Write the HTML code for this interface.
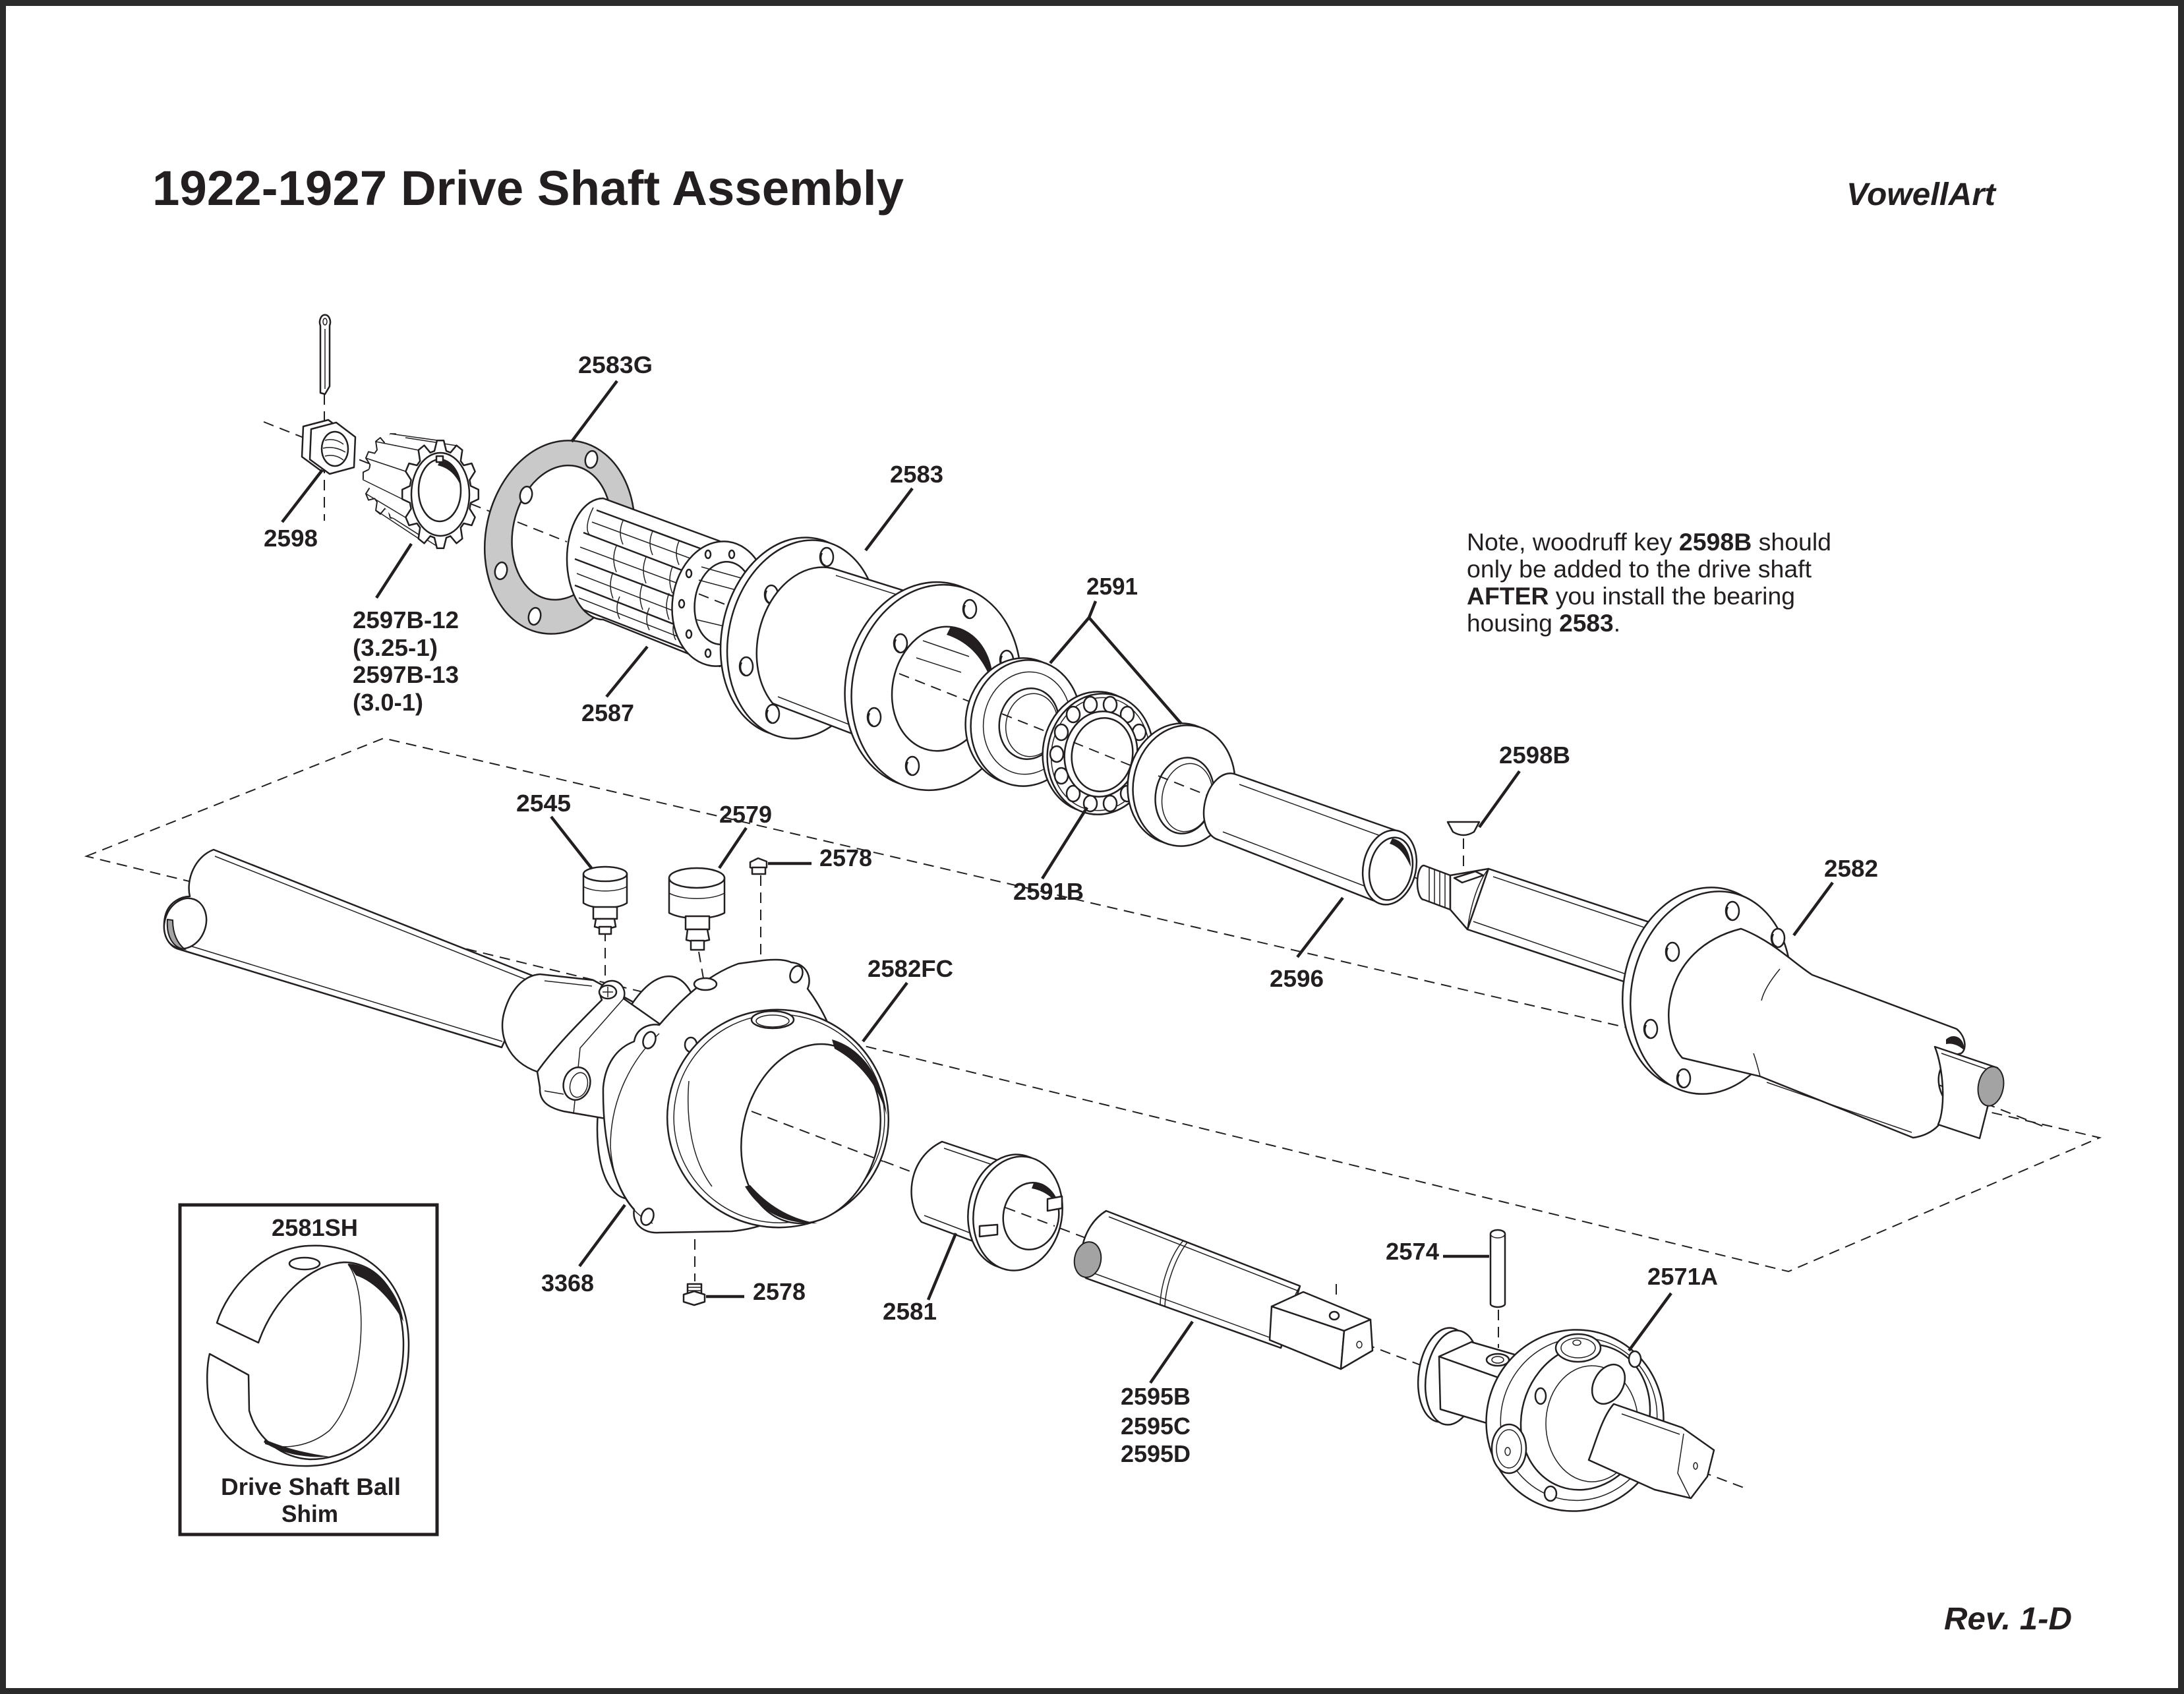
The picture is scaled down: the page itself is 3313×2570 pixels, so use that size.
<!DOCTYPE html>
<html>
<head>
<meta charset="utf-8">
<style>
html,body{margin:0;padding:0;background:#fff;}
svg{display:block;}
.s{fill:#fff;stroke:#231f20;stroke-width:2.5;stroke-linejoin:round}
.t{fill:none;stroke:#231f20;stroke-width:1.5}
.o{fill:none;stroke:#231f20;stroke-width:2.5}
.ld{fill:none;stroke:#231f20;stroke-width:4.5}
.d{fill:none;stroke:#231f20;stroke-width:2;stroke-dasharray:16 10}
.k{fill:#231f20}
.g{fill:#c9c9c9;stroke:#231f20;stroke-width:2.5}
.h{fill:#a3a3a3;stroke:#231f20;stroke-width:2}
text{font-family:"Liberation Sans",Arial,sans-serif;fill:#231f20}
.lb{font-weight:bold;font-size:36px}
</style>
</head>
<body>
<svg width="3313" height="2570" viewBox="0 0 3313 2570" xmlns="http://www.w3.org/2000/svg">
<defs>
<g id="hl"><ellipse rx="10" ry="14" class="s"/><path d="M-7,-6 A9 12 0 0 0 -2,13" class="o"/></g>
<polygon id="gear" points="46.1,-12.8 57.8,-7.2 57.8,7.2 46.1,12.8 44.4,21.8 52.6,34.7 47.5,47 35.5,44 30.8,50.6 33.3,67.2 24.5,74.3 15.3,63.3 9,65.8 5.1,81.7 -5.1,81.7 -9,65.8 -15.3,63.3 -24.5,74.3 -33.3,67.2 -30.8,50.6 -35.5,44 -47.5,47 -52.6,34.7 -44.4,21.8 -46.1,12.8 -57.8,7.2 -57.8,-7.2 -46.1,-12.8 -44.4,-21.8 -52.6,-34.7 -47.5,-47 -35.5,-44 -30.8,-50.6 -33.3,-67.2 -24.5,-74.3 -15.3,-63.3 -9,-65.8 -5.1,-81.7 5.1,-81.7 9,-65.8 15.3,-63.3 24.5,-74.3 33.3,-67.2 30.8,-50.6 35.5,-44 47.5,-47 52.6,-34.7 44.4,-21.8"/>
</defs>
<rect x="0" y="0" width="3313" height="2570" fill="#fff"/>
<rect x="4.5" y="4.5" width="3304" height="2561" fill="none" stroke="#2b2b2b" stroke-width="9"/>

<!-- Title & header -->
<text x="231" y="311" font-size="74" font-weight="bold" textLength="1140" lengthAdjust="spacingAndGlyphs">1922-1927 Drive Shaft Assembly</text>
<text x="2801" y="311" font-size="48" font-weight="bold" font-style="italic" textLength="226" lengthAdjust="spacingAndGlyphs">VowellArt</text>

<!-- Note -->
<text x="2225" y="835" font-size="37" textLength="553" lengthAdjust="spacingAndGlyphs">Note, woodruff key <tspan font-weight="bold">2598B</tspan> should</text>
<text x="2225" y="876" font-size="37" textLength="523" lengthAdjust="spacingAndGlyphs">only be added to the drive shaft</text>
<text x="2225" y="917" font-size="37" textLength="498" lengthAdjust="spacingAndGlyphs"><tspan font-weight="bold">AFTER</tspan> you install the bearing</text>
<text x="2225" y="958" font-size="37" textLength="233" lengthAdjust="spacingAndGlyphs">housing <tspan font-weight="bold">2583</tspan>.</text>

<!-- Dashed parallelogram -->
<polygon class="d" points="131,1299 582,1120 3185,1726 2713,1929"/>

<!-- Axis lines (underlying) -->
<line class="d" x1="400" y1="640" x2="3100" y2="1709"/>
<line class="d" x1="1146" y1="1688" x2="2653" y2="2260"/>

<!-- Other dashed lines -->
<line class="d" x1="492" y1="598" x2="492" y2="790"/>
<line class="d" x1="918" y1="1412" x2="918" y2="1497"/>
<line class="d" x1="1060" y1="1444" x2="1068" y2="1490"/>
<line class="d" x1="1154" y1="1328" x2="1154" y2="1529"/>
<line class="d" x1="1054" y1="1828" x2="1054" y2="1944"/>
<line class="d" x1="2220" y1="1272" x2="2220" y2="1316"/>
<line class="d" x1="2273" y1="1987" x2="2273" y2="2045"/>
<line class="d" x1="2027" y1="1948" x2="2027" y2="1968"/>

<!-- ===== TOP GROUP ===== -->
<!-- Cotter pin -->
<path class="s" d="M486,596 L486,494 A8,11 0 1 1 500,494 L500,586 L493,598 Z"/>
<line class="t" x1="493" y1="499" x2="493" y2="590"/>
<ellipse class="t" cx="493" cy="488" rx="3" ry="5"/>

<!-- Nut 2598 -->
<polygon class="s" points="460,647 498,637 527,659 525,705 488,715 458,693"/>
<polygon class="s" points="472,651 510,641 539,663 537,709 500,719 470,697"/>
<ellipse class="s" cx="508" cy="681" rx="20" ry="26"/>
<path class="t" d="M493,668 q15,-4 28,6 M490,680 q17,-4 34,6 M493,692 q15,-4 28,6"/>

<!-- Pinion 2597B -->
<use href="#gear" transform="translate(596,722) scale(0.78)" class="s" style="vector-effect:non-scaling-stroke"/>
<polygon points="592,658 663,668 668,832 596,786 551,728" fill="#fff"/>
<g class="t">
<line x1="551" y1="728" x2="610" y2="757"/>
<line x1="555" y1="695" x2="615" y2="715"/>
<line x1="570" y1="670" x2="635" y2="683"/>
<line x1="592" y1="658" x2="663" y2="668"/>
<line x1="615" y1="664" x2="692" y2="676"/>
<line x1="555" y1="749" x2="615" y2="785"/>
<line x1="570" y1="774" x2="635" y2="817"/>
<line x1="596" y1="786" x2="668" y2="832"/>
</g>
<use href="#gear" transform="translate(668,750)" class="s"/>
<ellipse class="s" cx="668" cy="750" rx="44" ry="63"/>
<ellipse class="s" cx="667" cy="744" rx="32" ry="47"/>
<path class="k" d="M668,698 C688,701 699,717 699,737 C691,720 681,710 664,706 Z"/>
<rect class="s" x="662" y="692" width="10" height="9"/>

<!-- Gasket 2583G -->
<ellipse class="g" cx="849" cy="815" rx="112" ry="148" transform="rotate(12 849 815)"/>
<ellipse class="s" cx="852" cy="808" rx="74" ry="103" transform="rotate(12 852 808)"/>
<ellipse class="s" cx="897" cy="697" rx="9" ry="13" transform="rotate(12 897 697)"/>
<ellipse class="s" cx="798" cy="751" rx="9" ry="13" transform="rotate(12 798 751)"/>
<ellipse class="s" cx="760" cy="866" rx="9" ry="13" transform="rotate(12 760 866)"/>
<ellipse class="s" cx="811" cy="935" rx="9" ry="13" transform="rotate(12 811 935)"/>
<line class="d" x1="785" y1="792" x2="860" y2="822"/>

<!-- Roller bearing 2587 -->
<path class="s" d="M915,756 L1092,821 L1092,1011 L915,940 A55 92 0 0 1 915,756 Z"/>
<path class="o" d="M905,774 L1062,832 M885,808 L1042,868 M872,848 L1030,908 M872,888 L1030,950 M885,925 L1040,985"/>
<path class="t" d="M900,770 C890,790 888,806 895,812 M945,790 q-8,18 0,36 M990,806 q-8,18 0,36 M1030,821 q-8,18 0,36 M935,828 q-8,20 0,40 M980,845 q-8,20 0,40 M1020,860 q-8,20 0,40 M930,868 q-8,20 0,40 M975,885 q-8,20 0,40 M1015,900 q-8,20 0,40 M940,905 q-8,18 0,34 M985,922 q-8,18 0,34 M1025,937 q-8,18 0,34 M898,792 L1055,850 M880,830 L1036,888 M875,870 L1030,930 M878,907 L1034,968"/>
<ellipse class="s" cx="1092" cy="916" rx="72" ry="95" transform="rotate(8 1092 916)"/>
<ellipse class="s" cx="1098" cy="915" rx="44" ry="63" transform="rotate(8 1098 915)"/>
<path class="t" d="M1060,880 L1135,900 M1056,940 L1132,958 M1064,860 L1128,878"/>
<g class="s">
<ellipse cx="1150" cy="916" rx="4" ry="6"/><ellipse cx="1139" cy="962" rx="4" ry="6"/><ellipse cx="1110" cy="991" rx="4" ry="6"/><ellipse cx="1074" cy="991" rx="4" ry="6"/><ellipse cx="1045" cy="962" rx="4" ry="6"/><ellipse cx="1034" cy="916" rx="4" ry="6"/><ellipse cx="1045" cy="870" rx="4" ry="6"/><ellipse cx="1074" cy="841" rx="4" ry="6"/><ellipse cx="1110" cy="841" rx="4" ry="6"/><ellipse cx="1139" cy="870" rx="4" ry="6"/>
</g>
<line class="d" x1="1060" y1="901" x2="1100" y2="917"/>

<!-- Housing 2583 -->
<ellipse class="s" cx="1208" cy="966" rx="113" ry="152" transform="rotate(12 1208 966)"/>
<ellipse class="s" cx="1218" cy="970" rx="113" ry="152" transform="rotate(12 1218 970)"/>
<use href="#hl" x="1254" y="845"/><use href="#hl" x="1170" y="902"/><use href="#hl" x="1132" y="1011"/><use href="#hl" x="1172" y="1083"/>
<path class="s" d="M1262,862 L1400,905 L1295,1114 L1172,1067 A88 118 12 0 1 1262,862 Z"/>
<path class="t" d="M1268,873 L1395,913 M1180,1057 L1298,1103"/>
<ellipse class="s" cx="1410" cy="1039" rx="127" ry="157" transform="rotate(12 1410 1039)"/>
<ellipse class="s" cx="1420" cy="1043" rx="127" ry="157" transform="rotate(12 1420 1043)"/>
<use href="#hl" x="1471" y="924"/><use href="#hl" x="1366" y="976"/><use href="#hl" x="1326" y="1088"/><use href="#hl" x="1384" y="1162"/><use href="#hl" x="1527" y="1001"/>
<ellipse class="s" cx="1429" cy="1045" rx="75" ry="95" transform="rotate(12 1429 1045)"/>
<path class="k" d="M1442,951 C1485,958 1508,995 1506,1040 C1494,1002 1472,975 1436,963 Z"/>
<path class="t" d="M1400,972 L1470,996 M1390,998 L1458,1020"/>
<line class="d" x1="1364" y1="1022" x2="1495" y2="1074"/>

<!-- Seal 2591 -->
<ellipse class="s" cx="1548" cy="1094" rx="83" ry="96" transform="rotate(10 1548 1094)"/>
<ellipse class="s" cx="1556" cy="1097" rx="83" ry="96" transform="rotate(10 1556 1097)"/>
<ellipse class="t" cx="1558" cy="1097" rx="66" ry="78" transform="rotate(10 1558 1097)"/>
<ellipse class="s" cx="1561" cy="1098" rx="45" ry="54" transform="rotate(10 1561 1098)"/>
<ellipse class="t" cx="1565" cy="1100" rx="39" ry="48" transform="rotate(10 1565 1100)"/>
<line class="d" x1="1520" y1="1083" x2="1605" y2="1117"/>

<!-- Bearing 2591B -->
<ellipse class="s" cx="1662" cy="1141" rx="80" ry="92" transform="rotate(10 1662 1141)"/>
<ellipse class="s" cx="1669" cy="1144" rx="80" ry="92" transform="rotate(10 1669 1144)"/>
<ellipse class="t" cx="1669" cy="1144" rx="74" ry="86" transform="rotate(10 1669 1144)"/>
<g class="s">
<ellipse cx="1735" cy="1144" rx="10" ry="12"/><ellipse cx="1728" cy="1177" rx="10" ry="12"/><ellipse cx="1710" cy="1204" rx="10" ry="12"/><ellipse cx="1684" cy="1219" rx="10" ry="12"/><ellipse cx="1654" cy="1219" rx="10" ry="12"/><ellipse cx="1628" cy="1204" rx="10" ry="12"/><ellipse cx="1610" cy="1177" rx="10" ry="12"/><ellipse cx="1603" cy="1144" rx="10" ry="12"/><ellipse cx="1610" cy="1111" rx="10" ry="12"/><ellipse cx="1628" cy="1084" rx="10" ry="12"/><ellipse cx="1654" cy="1069" rx="10" ry="12"/><ellipse cx="1684" cy="1069" rx="10" ry="12"/><ellipse cx="1710" cy="1084" rx="10" ry="12"/><ellipse cx="1728" cy="1111" rx="10" ry="12"/>
</g>
<ellipse class="s" cx="1670" cy="1144" rx="55" ry="65" transform="rotate(10 1670 1144)"/>
<ellipse class="s" cx="1672" cy="1145" rx="46" ry="56" transform="rotate(10 1672 1145)"/>
<line class="d" x1="1628" y1="1126" x2="1717" y2="1162"/>

<!-- Washer 2591 -->
<ellipse class="s" cx="1788" cy="1189" rx="77" ry="92" transform="rotate(10 1788 1189)"/>
<ellipse class="s" cx="1796" cy="1192" rx="77" ry="92" transform="rotate(10 1796 1192)"/>
<ellipse class="s" cx="1797" cy="1207" rx="44" ry="58" transform="rotate(10 1797 1207)"/>
<ellipse class="t" cx="1801" cy="1210" rx="38" ry="52" transform="rotate(10 1801 1210)"/>
<line class="d" x1="1757" y1="1177" x2="1840" y2="1210"/>

<!-- Tube 2596 -->
<path class="s" d="M1872,1174 L2118,1260 A40 57 12 0 1 2098,1372 L1848,1274 A32 50 12 0 1 1872,1174 Z"/>
<path class="t" d="M1880,1190 L2105,1272 M1855,1262 L2085,1350"/>
<ellipse class="s" cx="2108" cy="1316" rx="40" ry="57" transform="rotate(12 2108 1316)"/>
<ellipse class="s" cx="2110" cy="1318" rx="32" ry="48" transform="rotate(12 2110 1318)"/>
<path class="k" d="M2112,1272 C2130,1275 2140,1295 2140,1315 C2132,1298 2124,1285 2108,1280 Z"/>

<!-- Key 2598B -->
<path class="s" d="M2196,1247 L2244,1247 L2236,1262 Q2220,1272 2204,1262 Z"/>

<!-- Shaft 2582 -->
<path class="s" d="M2160,1313 L2200,1328 L2200,1380 L2160,1365 A10 26 0 0 1 2160,1313 Z"/>
<path class="t" d="M2168,1316 L2168,1368 M2176,1319 L2176,1371 M2184,1322 L2184,1374 M2192,1325 L2192,1377"/>
<path class="s" d="M2200,1328 L2258,1318 L2226,1410 L2200,1380 Z"/>
<path class="s" d="M2258,1318 L2520,1405 L2490,1498 L2226,1410 Z"/>
<path class="t" d="M2258,1318 C2240,1340 2230,1380 2226,1410 M2265,1330 L2515,1414 M2235,1398 L2493,1487"/>
<path class="s" d="M2206,1332 L2238,1322 L2250,1328 L2218,1339 Z"/>
<ellipse class="s" cx="2583" cy="1500" rx="120" ry="155" transform="rotate(12 2583 1500)"/>
<ellipse class="s" cx="2595" cy="1506" rx="120" ry="155" transform="rotate(12 2595 1506)"/>
<use href="#hl" x="2628" y="1382"/><use href="#hl" x="2697" y="1423"/><use href="#hl" x="2537" y="1444"/><use href="#hl" x="2504" y="1561"/><use href="#hl" x="2554" y="1636"/>
<path class="s" d="M2641,1409 C2690,1428 2722,1462 2749,1479 L2968,1561 C2982,1572 2984,1592 2975,1598 C2940,1605 2932,1640 2950,1668 C2958,1700 2932,1722 2902,1726 L2670,1633 L2552,1605 C2515,1565 2518,1440 2641,1409 Z"/>
<path class="t" d="M2700,1470 C2685,1488 2675,1505 2672,1518 M2660,1598 C2665,1612 2668,1625 2670,1633 M2680,1642 L2900,1718"/>
<path class="s" d="M2935,1588 L3030,1620 L3003,1727 L2940,1706 C2952,1680 2948,1620 2935,1588 Z"/>
<path class="t" d="M2945,1598 L3025,1626"/>
<ellipse class="h" cx="3020" cy="1648" rx="19" ry="30" transform="rotate(10 3020 1648)"/>
<path class="k" d="M2952,1577 C2964,1566 2980,1574 2980,1594 C2972,1586 2962,1582 2952,1584 Z"/>

<!-- ===== BOTTOM GROUP ===== -->
<!-- Torque tube -->
<path class="s" d="M324,1289 L810,1481 L761,1589 L268,1439 C250,1432 245,1405 252,1385 C258,1368 275,1360 288,1360 C282,1335 295,1300 324,1289 Z"/>
<path class="t" d="M326,1299 L808,1490 M272,1430 L762,1580"/>
<ellipse class="s" cx="281" cy="1401" rx="31" ry="39" transform="rotate(20 281 1401)"/>
<path class="h" d="M254,1395 C252,1420 262,1438 280,1440 C268,1430 262,1415 262,1396 Z"/>

<!-- Collar -->
<path class="s" d="M819,1478 L900,1487 L960,1520 L965,1690 L815,1626 C770,1610 755,1570 765,1535 C775,1500 795,1480 819,1478 Z"/>
<path class="t" d="M826,1488 L898,1496"/>

<!-- Housing 3368 back band -->
<ellipse class="s" cx="985" cy="1650" rx="72" ry="172" transform="rotate(12 985 1650)"/>

<!-- Flange plate -->
<path class="s" d="M913,1517 C905,1500 915,1487 930,1488 C945,1490 950,1505 946,1515 L1010,1560 L1010,1700 L930,1699 L855,1686 C830,1680 818,1670 819,1650 L815,1626 C840,1590 880,1550 913,1517 Z"/>
<path class="t" d="M946,1515 L880,1590 L870,1690 M826,1655 L855,1660"/>
<ellipse class="s" cx="922" cy="1505" rx="13" ry="10"/>
<path class="t" d="M914,1505 L930,1505 M922,1497 L922,1513"/>
<ellipse class="s" cx="875" cy="1644" rx="20" ry="25" transform="rotate(15 875 1644)"/>
<ellipse class="t" cx="878" cy="1646" rx="13" ry="19" transform="rotate(15 878 1646)"/>

<!-- Big flange 3368 -->
<path class="s" d="M1120,1462 L1150,1458 C1170,1455 1190,1455 1200,1460 C1225,1462 1232,1485 1225,1500 C1270,1560 1290,1640 1280,1720 C1260,1800 1200,1860 1110,1868 L1000,1870 C975,1872 958,1855 962,1835 C930,1800 914,1730 915,1650 C918,1615 935,1590 962,1580 C965,1560 985,1552 1000,1555 C1030,1520 1070,1480 1120,1462 Z"/>
<path class="t" d="M1000,1568 C960,1605 926,1665 926,1740 C930,1800 955,1840 990,1856"/>
<ellipse class="s" cx="985" cy="1578" rx="9" ry="13" transform="rotate(20 985 1578)"/>
<ellipse class="s" cx="982" cy="1846" rx="9" ry="13" transform="rotate(20 982 1846)"/>
<ellipse class="s" cx="1208" cy="1478" rx="9" ry="13" transform="rotate(20 1208 1478)"/>
<ellipse class="s" cx="1070" cy="1493" rx="17" ry="9"/>
<ellipse class="s" cx="1048" cy="1585" rx="9" ry="11"/>

<!-- Ball cap 2582FC -->
<ellipse class="s" cx="1180" cy="1697" rx="168" ry="165" transform="rotate(15 1180 1697)"/>
<ellipse class="t" cx="1182" cy="1697" rx="160" ry="158" transform="rotate(15 1182 1697)"/>
<ellipse class="s" cx="1230" cy="1720" rx="103" ry="138" transform="rotate(15 1230 1720)"/>
<path class="k" d="M1262,1577 C1310,1590 1340,1640 1345,1692 C1334,1652 1308,1614 1266,1591 Z"/>
<path class="k" d="M1130,1800 Q1165,1858 1240,1856 Q1180,1846 1138,1798 Z"/>
<ellipse class="s" cx="1172" cy="1547" rx="32" ry="13"/>
<ellipse class="t" cx="1172" cy="1549" rx="25" ry="9"/>
<path class="t" d="M1045,1640 C1040,1700 1050,1760 1080,1800"/>
<line class="d" x1="1140" y1="1686" x2="1340" y2="1762"/>

<!-- Grease cup 2545 -->
<path class="s" d="M885,1326 L885,1370 C900,1380 936,1380 951,1370 L951,1326 Z"/>
<ellipse class="s" cx="918" cy="1326" rx="33" ry="11"/>
<path class="t" d="M885,1345 C900,1354 936,1354 951,1345"/>
<rect class="s" x="900" y="1376" width="36" height="18"/>
<polygon class="s" points="904,1394 932,1394 934,1406 918,1410 902,1406"/>
<rect class="s" x="909" y="1406" width="18" height="11"/>

<!-- Grease cup 2579 -->
<path class="s" d="M1015,1332 L1015,1385 C1035,1396 1079,1396 1099,1385 L1099,1332 Z"/>
<ellipse class="s" cx="1057" cy="1332" rx="42" ry="15"/>
<path class="t" d="M1015,1355 C1035,1366 1079,1366 1099,1355"/>
<rect class="s" x="1040" y="1390" width="36" height="20"/>
<polygon class="s" points="1043,1410 1073,1410 1076,1426 1058,1430 1041,1426"/>
<rect class="s" x="1048" y="1427" width="20" height="14"/>

<!-- Plugs 2578 -->
<polygon class="s" points="1138,1308 1150,1302 1163,1307 1163,1316 1150,1320 1138,1316"/>
<rect class="s" x="1141" y="1316" width="20" height="10"/>
<rect class="s" x="1043" y="1948" width="21" height="15"/>
<path class="t" d="M1043,1953 L1064,1953 M1043,1958 L1064,1958"/>
<polygon class="s" points="1037,1964 1053,1959 1069,1964 1069,1975 1053,1980 1037,1975"/>

<!-- Bushing 2581 -->
<path class="s" d="M1429,1732 L1522,1763 L1484,1886 L1398,1854 C1375,1830 1372,1760 1429,1732 Z"/>
<path class="t" d="M1432,1742 L1520,1772 M1402,1844 L1486,1876"/>
<ellipse class="s" cx="1536" cy="1838" rx="67" ry="87" transform="rotate(10 1536 1838)"/>
<ellipse class="s" cx="1544" cy="1841" rx="67" ry="87" transform="rotate(10 1544 1841)"/>
<ellipse class="s" cx="1564" cy="1845" rx="42" ry="51" transform="rotate(10 1564 1845)"/>
<path class="k" d="M1568,1795 C1590,1797 1604,1812 1606,1830 C1596,1815 1582,1806 1565,1803 Z"/>
<path class="s" d="M1589,1819 L1611,1815 L1611,1833 L1589,1837 Z"/>
<path class="s" d="M1486,1860 L1513,1858 L1513,1873 L1486,1876 Z"/>
<line class="d" x1="1525" y1="1832" x2="1600" y2="1860"/>

<!-- Shaft 2595 -->
<path class="s" d="M1678,1837 L1972,1951 L1943,2045 L1647,1939 C1632,1915 1640,1860 1678,1837 Z"/>
<path class="t" d="M1682,1846 L1968,1958 M1652,1929 L1945,2036 M1795,1882 C1775,1905 1760,1950 1760,1981 M1801,1885 C1783,1908 1768,1950 1767,1983 M1972,1951 C1955,1980 1945,2020 1943,2045"/>
<ellipse class="h" cx="1650" cy="1911" rx="20" ry="27" transform="rotate(10 1650 1911)"/>
<polygon class="s" points="1929,1982 2039,2019 2034,2077 1926,2033"/>
<polygon class="s" points="1929,1982 1977,1960 2079,2002 2039,2019"/>
<polygon class="s" points="2039,2019 2079,2002 2082,2049 2034,2077"/>
<ellipse class="s" cx="2024" cy="1996" rx="7" ry="6"/>
<ellipse class="t" cx="2062" cy="2040" rx="4" ry="5"/>

<!-- Pin 2574 -->
<path class="s" d="M2261,1872 A11 6 0 0 1 2283,1872 L2283,1978 A11 5 0 0 1 2261,1978 Z"/>
<ellipse class="t" cx="2272" cy="1872" rx="11" ry="6"/>

<!-- U-joint 2571A -->
<ellipse class="s" cx="2192" cy="2086" rx="40" ry="72" transform="rotate(8 2192 2086)"/>
<ellipse class="s" cx="2203" cy="2090" rx="40" ry="72" transform="rotate(8 2203 2090)"/>
<polygon class="s" points="2183,2058 2290,2096 2292,2170 2185,2138"/>
<polygon class="s" points="2183,2058 2232,2036 2325,2063 2290,2096"/>
<ellipse class="s" cx="2272" cy="2063" rx="17" ry="9"/>
<ellipse class="t" cx="2272" cy="2063" rx="9" ry="5"/>
<ellipse class="s" cx="2389" cy="2155" rx="134" ry="138" transform="rotate(20 2389 2155)"/>
<ellipse class="t" cx="2395" cy="2153" rx="118" ry="124" transform="rotate(20 2395 2153)"/>
<ellipse class="s" cx="2405" cy="2150" rx="96" ry="112" transform="rotate(20 2405 2150)"/>
<ellipse class="t" cx="2415" cy="2160" rx="70" ry="88"/>
<ellipse class="s" cx="2440" cy="2100" rx="22" ry="32" transform="rotate(30 2440 2100)"/>
<ellipse class="s" cx="2394" cy="2045" rx="34" ry="21"/>
<ellipse class="t" cx="2394" cy="2045" rx="26" ry="15"/>
<ellipse class="t" cx="2392" cy="2037" rx="6" ry="4"/>
<ellipse class="s" cx="2289" cy="2198" rx="26" ry="37"/>
<ellipse class="t" cx="2289" cy="2198" rx="19" ry="29"/>
<ellipse class="t" cx="2287" cy="2202" rx="4" ry="6"/>
<ellipse class="s" cx="2337" cy="2118" rx="8" ry="12"/>
<ellipse class="s" cx="2352" cy="2266" rx="9" ry="11"/>
<ellipse class="s" cx="2480" cy="2062" rx="9" ry="12"/>
<path class="s" d="M2448,2130 L2552,2166 L2600,2200 L2590,2240 L2565,2273 L2510,2260 L2410,2215 C2420,2190 2430,2150 2448,2130 Z"/>
<path class="t" d="M2554,2175 L2545,2235 L2564,2273 M2460,2145 L2548,2176"/>
<ellipse class="t" cx="2572" cy="2224" rx="3" ry="5"/>

<!-- Shim box -->
<rect x="273" y="1828" width="390" height="500" fill="none" stroke="#231f20" stroke-width="5"/>
<path class="s" d="M329,2007 C345,1955 400,1893 468,1890 C560,1885 620,1950 620,2040 C620,2140 560,2222 470,2224 C390,2226 330,2190 316,2120 C313,2095 314,2070 318,2054 L377,2086 L378,2140 C390,2185 430,2212 470,2214 C560,2214 612,2130 612,2040 C612,1960 570,1915 522,1915 C470,1918 415,1970 392,2037 Z"/>
<path class="t" d="M528,1918 C560,1960 555,2110 500,2170 C470,2195 430,2200 402,2190"/>
<path class="k" d="M528,1917 C565,1918 605,1955 612,2005 C595,1975 570,1945 540,1935 Z"/>
<path class="k" d="M400,2188 C430,2208 470,2212 500,2210 C470,2205 440,2200 402,2184 Z"/>
<ellipse class="s" cx="462" cy="1917" rx="23" ry="9"/>

<!-- Leader lines -->
<g class="ld">
<line x1="936" y1="578" x2="867" y2="670"/>
<line x1="428" y1="792" x2="489" y2="713"/>
<line x1="571" y1="907" x2="624" y2="825"/>
<line x1="920" y1="1057" x2="982" y2="981"/>
<line x1="1384" y1="741" x2="1313" y2="835"/>
<polyline points="1662,912 1652,937 1593,1006"/>
<line x1="1652" y1="937" x2="1792" y2="1098"/>
<line x1="1649" y1="1225" x2="1581" y2="1333"/>
<line x1="1968" y1="1452" x2="2037" y2="1362"/>
<line x1="2305" y1="1170" x2="2244" y2="1255"/>
<line x1="2780" y1="1339" x2="2721" y2="1419"/>
<line x1="836" y1="1239" x2="898" y2="1318"/>
<line x1="1132" y1="1256" x2="1091" y2="1317"/>
<line x1="1165" y1="1310" x2="1231" y2="1310"/>
<line x1="1376" y1="1491" x2="1309" y2="1580"/>
<line x1="948" y1="1828" x2="879" y2="1921"/>
<line x1="1071" y1="1967" x2="1129" y2="1967"/>
<line x1="1408" y1="1972" x2="1450" y2="1871"/>
<line x1="1745" y1="2098" x2="1809" y2="2005"/>
<line x1="2189" y1="1906" x2="2259" y2="1906"/>
<line x1="2535" y1="1962" x2="2471" y2="2049"/>
</g>

<!-- Labels -->
<g class="lb">
<text x="877" y="566" textLength="113" lengthAdjust="spacingAndGlyphs">2583G</text>
<text x="1350" y="732" textLength="81" lengthAdjust="spacingAndGlyphs">2583</text>
<text x="400" y="829" textLength="82" lengthAdjust="spacingAndGlyphs">2598</text>
<text x="535" y="953" textLength="161" lengthAdjust="spacingAndGlyphs">2597B-12</text>
<text x="535" y="995" textLength="129" lengthAdjust="spacingAndGlyphs">(3.25-1)</text>
<text x="535" y="1036" textLength="161" lengthAdjust="spacingAndGlyphs">2597B-13</text>
<text x="535" y="1078" textLength="107" lengthAdjust="spacingAndGlyphs">(3.0-1)</text>
<text x="882" y="1094" textLength="80" lengthAdjust="spacingAndGlyphs">2587</text>
<text x="1648" y="902" textLength="78" lengthAdjust="spacingAndGlyphs">2591</text>
<text x="1537" y="1365" textLength="107" lengthAdjust="spacingAndGlyphs">2591B</text>
<text x="1926" y="1497" textLength="82" lengthAdjust="spacingAndGlyphs">2596</text>
<text x="2274" y="1158" textLength="108" lengthAdjust="spacingAndGlyphs">2598B</text>
<text x="2767" y="1330" textLength="82" lengthAdjust="spacingAndGlyphs">2582</text>
<text x="783" y="1231" textLength="83" lengthAdjust="spacingAndGlyphs">2545</text>
<text x="1091" y="1248" textLength="80" lengthAdjust="spacingAndGlyphs">2579</text>
<text x="1243" y="1314" textLength="80" lengthAdjust="spacingAndGlyphs">2578</text>
<text x="1316" y="1482" textLength="130" lengthAdjust="spacingAndGlyphs">2582FC</text>
<text x="821" y="1959" textLength="80" lengthAdjust="spacingAndGlyphs">3368</text>
<text x="1142" y="1972" textLength="80" lengthAdjust="spacingAndGlyphs">2578</text>
<text x="1339" y="2002" textLength="82" lengthAdjust="spacingAndGlyphs">2581</text>
<text x="2102" y="1911" textLength="81" lengthAdjust="spacingAndGlyphs">2574</text>
<text x="2499" y="1949" textLength="107" lengthAdjust="spacingAndGlyphs">2571A</text>
<text x="1700" y="2131" textLength="106" lengthAdjust="spacingAndGlyphs">2595B</text>
<text x="1700" y="2176" textLength="106" lengthAdjust="spacingAndGlyphs">2595C</text>
<text x="1700" y="2218" textLength="106" lengthAdjust="spacingAndGlyphs">2595D</text>
<text x="412" y="1875" textLength="131" lengthAdjust="spacingAndGlyphs">2581SH</text>
<text x="335" y="2268" textLength="273" lengthAdjust="spacingAndGlyphs">Drive Shaft Ball</text>
<text x="427" y="2309" textLength="86" lengthAdjust="spacingAndGlyphs">Shim</text>
</g>
<text x="2949" y="2472" font-size="48" font-weight="bold" font-style="italic" textLength="194" lengthAdjust="spacingAndGlyphs">Rev. 1-D</text>
</svg>
</body>
</html>
